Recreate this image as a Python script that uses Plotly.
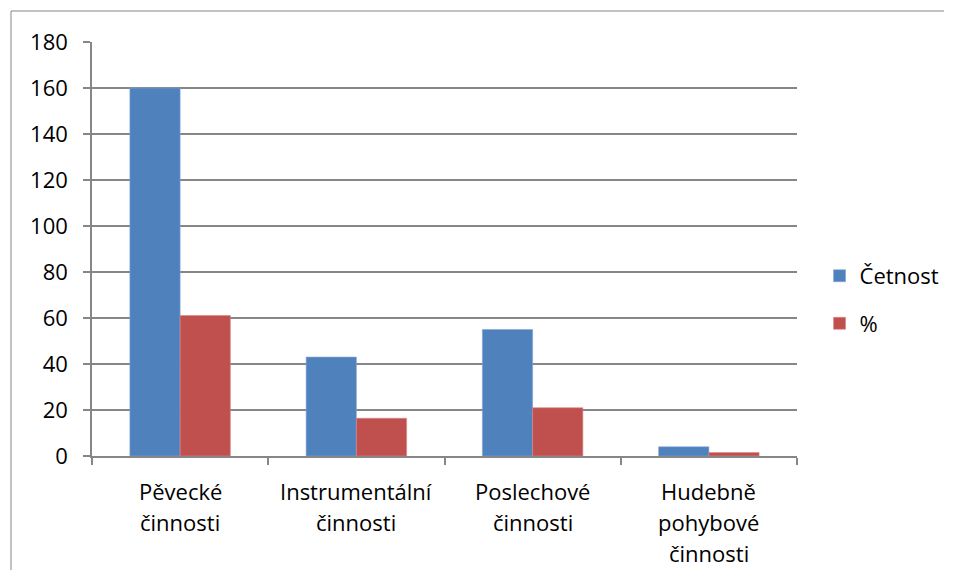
import plotly.graph_objects as go

categories = ["Pěvecké činnosti", "Instrumentální činnosti", "Poslechové činnosti", "Hudebně pohybové činnosti"]
label_lines = [["Pěvecké", "činnosti"], ["Instrumentální", "činnosti"], ["Poslechové", "činnosti"], ["Hudebně", "pohybové", "činnosti"]]
cetnost = [160, 43, 55, 4]
procenta = [61.07, 16.41, 20.99, 1.53]
y_ticks = [0, 20, 40, 60, 80, 100, 120, 140, 160, 180]

FONT = "Open Sans"
FS = 22
GRAY = "#868686"

fig = go.Figure()
fig.add_trace(go.Bar(x=categories, y=cetnost, name="Četnost", marker_color="#4F81BD",
                     marker_line_color="#7FA6D6", marker_line_width=0.6, legendgroup="a"))
fig.add_trace(go.Bar(x=categories, y=procenta, name="%", marker_color="#C0504D",
                     marker_line_color="#D98886", marker_line_width=0.6, legendgroup="b"))

# page has an 8px body margin; figure is sized so the page does not scroll
W, H = 936, 562
L, T = 84, 34
pw, ph = 705, 414
R, B = W - L - pw, H - T - ph

annotations = []
for cat, lines in zip(categories, label_lines):
    for i, line in enumerate(lines):
        annotations.append(dict(x=cat, xref="x", y=0, yref="paper", yanchor="middle",
                                yshift=-(35 + 31 * i), text=line, showarrow=False,
                                font=dict(family=FONT, size=FS, color="#000000")))

# outer chart frame: only the top and left edges are inside the window
bx0 = (3 - L) / pw
bx1 = (W + 40 - L) / pw
by1 = 1 + (T - 3) / ph
by0 = -(B + 40) / ph
frame_path = f"M {bx0},{by0} L {bx0},{by1} L {bx1},{by1}"

fig.update_layout(
    width=W, height=H,
    margin=dict(l=L, r=R, t=T, b=B, autoexpand=False),
    paper_bgcolor="white", plot_bgcolor="white",
    barmode="group", bargap=0.43, bargroupgap=0,
    font=dict(family=FONT, size=FS, color="#000000"),
    legend=dict(x=1.032, xanchor="left", y=0.377, yanchor="middle",
                font=dict(family=FONT, size=FS), tracegroupgap=16,
                itemwidth=30, bgcolor="rgba(0,0,0,0)"),
    annotations=annotations,
    shapes=[dict(type="path", xref="paper", yref="paper", path=frame_path,
                 line=dict(color=GRAY, width=1), layer="below")],
)
fig.update_xaxes(type="category", showgrid=False, showline=True, linecolor=GRAY, linewidth=1.5,
                 ticks="outside", tickson="boundaries", ticklen=7, tickcolor=GRAY, tickwidth=1.5,
                 showticklabels=False)
fig.update_yaxes(range=[0, 180], tickvals=y_ticks, showgrid=True, gridcolor=GRAY, gridwidth=1.5,
                 showline=True, linecolor=GRAY, linewidth=1.5, ticks="outside", ticklen=7,
                 tickcolor=GRAY, tickwidth=1.5, ticklabelstandoff=11, zeroline=False,
                 tickfont=dict(family=FONT, size=FS))

fig.write_html("out.html")
